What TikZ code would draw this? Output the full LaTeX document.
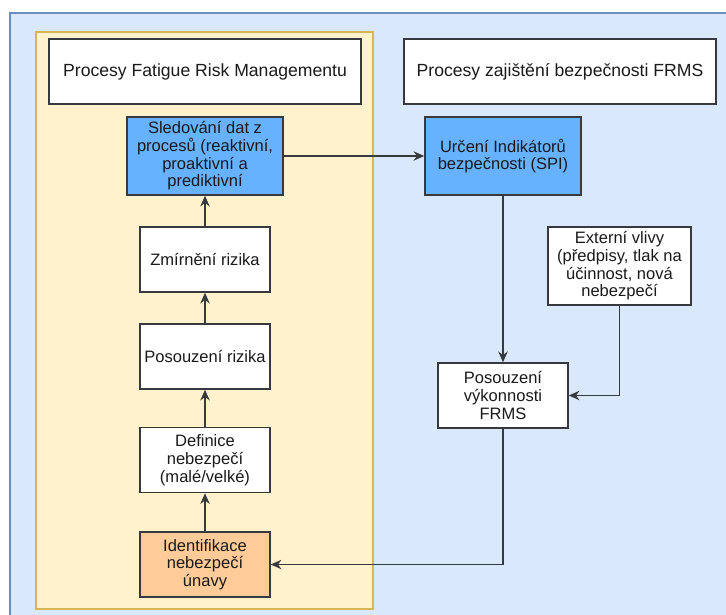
\documentclass[tikz,border=0pt]{standalone}
\usepackage{fontspec}
\setmainfont{Liberation Sans}
\usetikzlibrary{arrows.meta}
\definecolor{outerfill}{HTML}{DAE8FC}
\definecolor{outerline}{HTML}{6C8EBF}
\definecolor{yelfill}{HTML}{FFF2CC}
\definecolor{yelline}{HTML}{D6B656}
\definecolor{bluebox}{HTML}{66B2FF}
\definecolor{orangebox}{HTML}{FFCC99}
\definecolor{lineclr}{HTML}{36393D}
\definecolor{txtclr}{HTML}{1A1A1A}
\tikzset{
  base/.style={draw=lineclr, line width=1.1pt, inner sep=0pt, align=center, text=txtclr,
    font=\fontsize{12.4}{13.3}\selectfont},
  titlebox/.style={base, fill=white, minimum width=234pt, minimum height=48.75pt,
    font=\fontsize{13.2}{14}\selectfont},
  bigbox/.style={base, minimum width=117pt, minimum height=58.5pt},
  smallbox/.style={base, fill=white, minimum width=97.5pt, minimum height=48.75pt},
  conn/.style={draw=lineclr, line width=1.2pt, -{Stealth[length=8pt,width=7pt]}}
}
\begin{document}
\begin{tikzpicture}[x=0.75pt,y=-0.75pt]
\clip (0,0) rectangle (726,615);
\fill[white] (0,0) rectangle (726,615);
\draw[fill=outerfill, draw=outerline, line width=1pt] (10,13) rectangle (760,640);
\draw[fill=yelfill, draw=yelline, line width=1pt] (36,32) rectangle (373,609);

\node[titlebox] (tl) at (205,71.5) {Procesy Fatigue Risk Managementu};
\node[titlebox] (tr) at (560,71.5) {Procesy zajištění bezpečnosti FRMS};

\node[bigbox, fill=bluebox] (sled) at (205,156) {Sledování dat z\\procesů (reaktivní,\\proaktivní a\\prediktivní};
\node[bigbox, fill=bluebox] (urc) at (503,156) {Určení Indikátorů\\bezpečnosti (SPI)};
\node[smallbox] (zmir) at (205,259.5) {Zmírnění rizika};
\node[smallbox] (posr) at (205,356.5) {Posouzení rizika};
\node[smallbox] (def) at (205,460) {Definice\\nebezpečí\\(malé/velké)};
\node[smallbox, fill=orangebox] (ident) at (205,564.5) {Identifikace\\nebezpečí\\únavy};
\node[base, fill=white, minimum width=107.25pt, minimum height=58.5pt] (ext) at (619.5,266) {Externí vlivy\\(předpisy, tlak na\\účinnost, nová\\nebezpečí};
\node[smallbox] (posv) at (503,395.5) {Posouzení\\výkonnosti\\FRMS};

\draw[conn] (sled.east) -- (urc.west);
\draw[conn] (urc.south) -- (posv.north);
\draw[conn] (ext.south) |- (posv.east);
\draw[conn] (posv.south) |- (ident.east);
\draw[conn] (ident.north) -- (def.south);
\draw[conn] (def.north) -- (posr.south);
\draw[conn] (posr.north) -- (zmir.south);
\draw[conn] (zmir.north) -- (sled.south);
\end{tikzpicture}
\end{document}
